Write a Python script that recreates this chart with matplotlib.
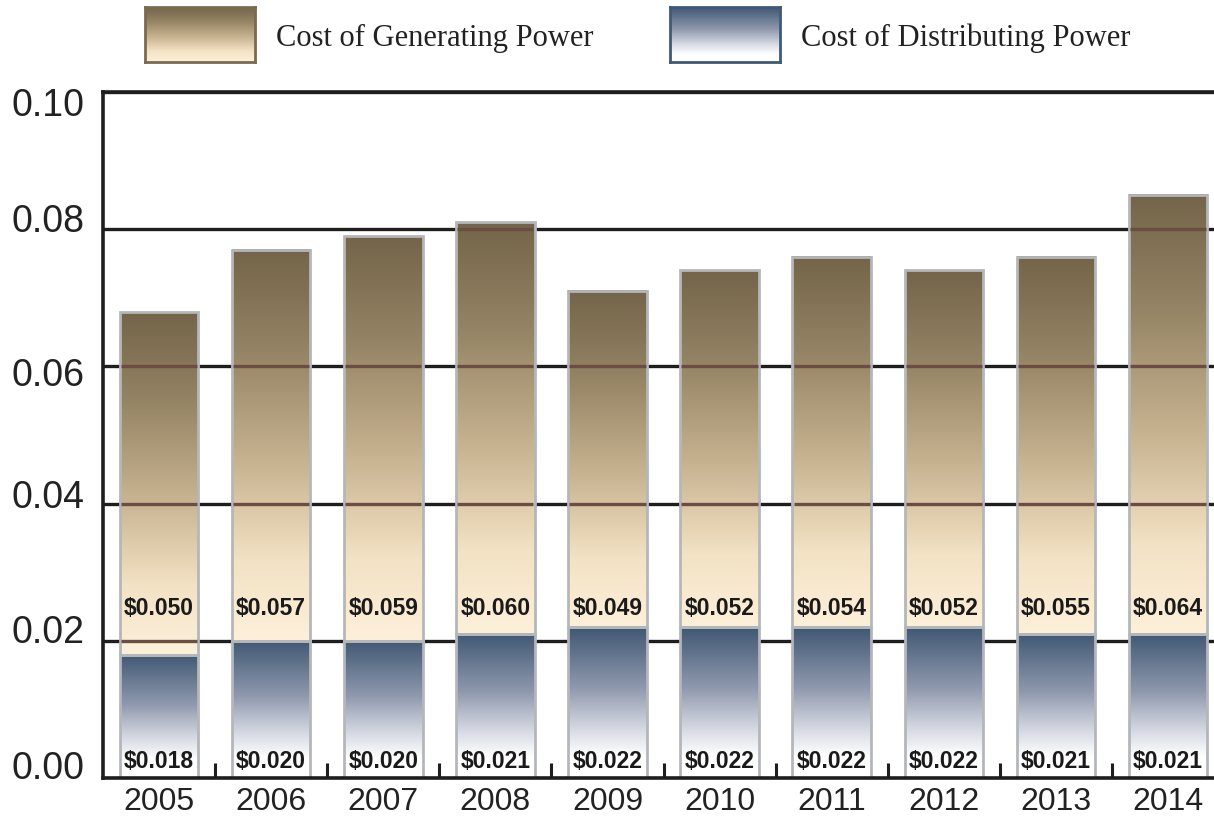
import matplotlib
matplotlib.use("Agg")
import matplotlib.pyplot as plt
import numpy as np
from matplotlib.colors import LinearSegmentedColormap
from matplotlib.patches import Rectangle
from matplotlib import font_manager as fm
from matplotlib.transforms import ScaledTranslation, blended_transform_factory

years = ["2005", "2006", "2007", "2008", "2009", "2010", "2011", "2012", "2013", "2014"]
distributing = [0.018, 0.020, 0.020, 0.021, 0.022, 0.022, 0.022, 0.022, 0.021, 0.021]
generating = [0.050, 0.057, 0.059, 0.060, 0.049, 0.052, 0.054, 0.052, 0.055, 0.064]
yticks = [0.00, 0.02, 0.04, 0.06, 0.08, 0.10]
series_names = ["Cost of Generating Power", "Cost of Distributing Power"]

avail = {f.name for f in fm.fontManager.ttflist}
sans = [f for f in ["Liberation Sans", "DejaVu Sans"] if f in avail]
serif = [f for f in ["Liberation Serif", "DejaVu Serif"] if f in avail]

gen_cmap = LinearSegmentedColormap.from_list(
    "gen", [(0, "#fdf0da"), (0.2, "#f3e2c4"), (0.45, "#c8b491"), (0.75, "#938263"), (1, "#746449")])
dist_cmap = LinearSegmentedColormap.from_list(
    "dist", [(0, "#ffffff"), (0.14, "#ffffff"), (0.3, "#dcdfe7"), (0.6, "#8e98ad"), (1, "#405873")])
grad = np.linspace(0, 1, 256).reshape(-1, 1)

fig = plt.figure(figsize=(12.14, 8.2), dpi=100)
ax = fig.add_axes([103 / 1214, 1 - 779 / 820, 1 - 103 / 1214, (779 - 93) / 820])

x = np.arange(len(years))
w = 0.7
gridcol = "#1e1e1e"
for yv in yticks[1:]:
    ax.axhline(yv, color=gridcol, lw=2.4, zorder=0)


def grad_bar(xc, bottom, height, cmap):
    ax.imshow(grad, cmap=cmap, origin="lower", aspect="auto",
              extent=(xc - w / 2, xc + w / 2, bottom, bottom + height), zorder=1,
              interpolation="bicubic")
    ax.add_patch(Rectangle((xc - w / 2, bottom), w, height, fill=False,
                           edgecolor="#b4b7ba", lw=2.0, zorder=2))


for i in range(len(years)):
    grad_bar(x[i], 0, distributing[i], dist_cmap)
    grad_bar(x[i], distributing[i], generating[i], gen_cmap)
    top = distributing[i] + generating[i]
    for yv in yticks[1:]:
        if distributing[i] < yv - 0.0003 and yv < top:
            ax.hlines(yv, x[i] - w / 2 + 0.01, x[i] + w / 2 - 0.01, color="#6c4d43", lw=2.4, zorder=3)
    ax.text(x[i], 0.0248, f"${generating[i]:.3f}", ha="center", va="center",
            fontsize=16.5, fontweight="bold", family=sans, color="#1a1a1a", zorder=4)
    ax.text(x[i], 0.0025, f"${distributing[i]:.3f}", ha="center", va="center",
            fontsize=16.5, fontweight="bold", family=sans, color="#1a1a1a", zorder=4)

ax.set_xlim(-0.5, 9.41)
ax.set_ylim(0, 0.10)
ax.set_yticks(yticks)
ax.set_yticklabels([])
# y labels drawn as texts so that each can sit at the reference's slight offset
label_shift_px = [14, 13, 11, -5, 12, -9]  # upward shift of each y label in pixels
ytrans = blended_transform_factory(ax.transAxes, ax.transData)
for yv, dy in zip(yticks, label_shift_px):
    ax.text(-0.0165, yv, f"{yv:.2f}", fontsize=27, family=sans, color="#222222",
            ha="right", va="center_baseline", clip_on=False,
            transform=ytrans + ScaledTranslation(0, dy / 100, fig.dpi_scale_trans))
ax.set_xticks(x)
ax.set_xticklabels(years, fontsize=23, family=sans, color="#222222")
ax.set_xticks(x[:-1] + 0.5, minor=True)
ax.tick_params(axis="x", which="major", length=0, pad=6)
ax.tick_params(axis="x", which="minor", direction="in", length=11, width=2.2, color="#1e1e1e")
ax.tick_params(axis="y", length=0)
for s in ["top", "right"]:
    ax.spines[s].set_visible(False)
ax.spines["left"].set_linewidth(2.6)
ax.spines["bottom"].set_linewidth(2.6)
ax.spines["left"].set_color("#1e1e1e")
ax.spines["bottom"].set_color("#1e1e1e")
ax.axhline(0.10, color=gridcol, lw=2.6, zorder=0, clip_on=False)

# legend
legend_specs = [(145, 255, 276, gen_cmap, "#7a6a50"), (670, 780, 801, dist_cmap, "#3f5a78")]
for (x0, x1, tx, cmap, ec), name in zip(legend_specs, series_names):
    lax = fig.add_axes([x0 / 1214, 1 - 63 / 820, (x1 - x0) / 1214, 55 / 820])
    lax.imshow(grad, cmap=cmap, origin="lower", aspect="auto", extent=(0, 1, 0, 1))
    lax.set_xticks([]); lax.set_yticks([])
    for sp in lax.spines.values():
        sp.set_color(ec); sp.set_linewidth(2)
    fig.text(tx / 1214, 1 - 38 / 820, name, fontsize=22, family=serif, color="#222222",
             ha="left", va="center")

fig.savefig("out.png", dpi=100)
